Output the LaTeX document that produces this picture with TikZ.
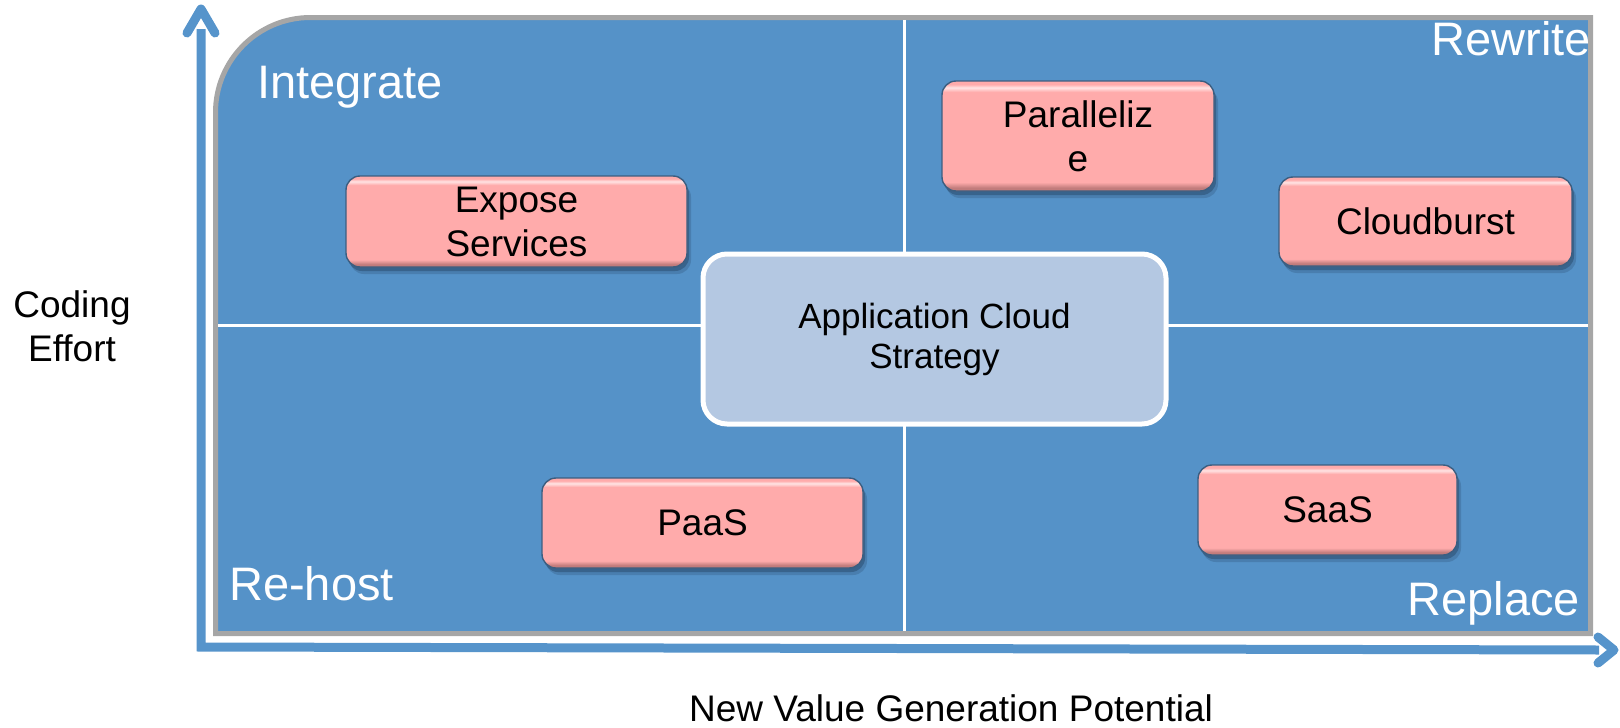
\documentclass[tikz,border=0pt]{standalone}
\usepackage{fontspec}
\setmainfont{Liberation Sans}
\usetikzlibrary{shadows}
\definecolor{panelblue}{HTML}{5592C8}
\definecolor{panelgray}{HTML}{A6A6A6}
\definecolor{axisblue}{HTML}{5694CB}
\definecolor{centerfill}{HTML}{B4C8E2}
\definecolor{pk}{HTML}{FFABAB}
\definecolor{pkd}{HTML}{C27C7C}
\definecolor{pkl}{HTML}{FFE4E4}
\definecolor{pkedge}{HTML}{3C5E80}
\definecolor{shadowc}{HTML}{1F3B58}
\pgfdeclareverticalshading{pinkbevel}{100bp}{color(0bp)=(pkd); color(25bp)=(pkd); color(26.5bp)=(pkd); color(29bp)=(pk); color(70bp)=(pk); color(72bp)=(pkl); color(73.5bp)=(pk); color(100bp)=(pk)}
\begin{document}
\begin{tikzpicture}[x=1pt,y=-1pt,
  pinkbox/.style={rectangle, rounded corners=14pt, shade, shading=pinkbevel,
    draw=pkedge, line width=1.4pt, align=center, inner sep=0pt,
    font=\fontsize{37}{44}\selectfont,
    drop shadow={shadow xshift=4pt, shadow yshift=-7pt, fill=shadowc, opacity=0.22},
    drop shadow={shadow xshift=2pt, shadow yshift=-4pt, fill=shadowc, opacity=0.4}},
  centerbox/.style={rectangle, rounded corners=24pt, fill=centerfill, draw=white,
    line width=5pt, align=center, inner sep=0pt, font=\fontsize{35}{40}\selectfont},
  quadlabel/.style={text=white, inner sep=0pt, font=\fontsize{47}{56}\selectfont},
  axislabel/.style={text=black, inner sep=0pt, align=center, font=\fontsize{37}{44}\selectfont},
  axisline/.style={draw=axisblue, line width=9pt, line join=miter},
  axishead/.style={draw=axisblue, line width=9pt, line cap=round, line join=round},
  divider/.style={draw=white, line width=3pt}]
\useasboundingbox (0,0) rectangle (1620,728);
% panel
\fill[panelblue] (215.5,633.5) -- (215.5,112.5) arc[start angle=180,end angle=270,radius=95] -- (1590.5,17.5) -- (1590.5,633.5) -- cycle;
\draw[panelgray, line width=5pt] (215.5,633.5) -- (215.5,112.5) arc[start angle=180,end angle=270,radius=95] -- (1590.5,17.5) -- (1590.5,633.5) -- cycle;
% dividers
\draw[divider] (904,20) -- (904,631);
\draw[divider] (218,325) -- (1588,325);
% axes
\coordinate (ytip) at (201,9);
\coordinate (origin) at (201,647);
\coordinate (xtip) at (1614,650);
\coordinate (yl) at (187,33);
\coordinate (yr) at (215,33);
\coordinate (xu) at (1598,637);
\coordinate (xd) at (1598,663);
\draw[axisline] ([yshift=-20pt]ytip) -- (origin) -- ([xshift=-15pt]xtip);
\draw[axishead] (yl) -- (ytip) -- (yr);
\draw[axishead] (xu) -- (xtip) -- (xd);
% quadrant labels
\node[quadlabel, anchor=base west] (integrate) at (257,98) {Integrate};
\node[quadlabel, anchor=base east] (rewrite) at (1591,55) {Rewrite};
\node[quadlabel, anchor=base west] (rehost) at (229,600) {Re-host};
\node[quadlabel, anchor=base east] (replace) at (1580,615) {Replace};
% boxes
\node[pinkbox, minimum width=341pt, minimum height=91pt] (expose) at (516.5,221.5) {Expose\\Services};
\node[pinkbox, minimum width=272pt, minimum height=110pt] (parallelize) at (1078,136) {Paralleliz\\e};
\node[pinkbox, minimum width=293pt, minimum height=89pt] (cloudburst) at (1425.5,221.5) {Cloudburst};
\node[pinkbox, minimum width=321pt, minimum height=90pt] (paas) at (702.5,523) {PaaS};
\node[pinkbox, minimum width=259pt, minimum height=90pt] (saas) at (1327.5,510) {SaaS};
\node[centerbox, minimum width=463pt, minimum height=170pt] (acs) at (934.5,339) {Application Cloud\\Strategy};
% axis labels
\node[axislabel] (codingeffort) at (72,326.5) {Coding\\Effort};
\node[axislabel, anchor=base] (newvalue) at (951,721) {New Value Generation Potential};
\end{tikzpicture}
\end{document}
